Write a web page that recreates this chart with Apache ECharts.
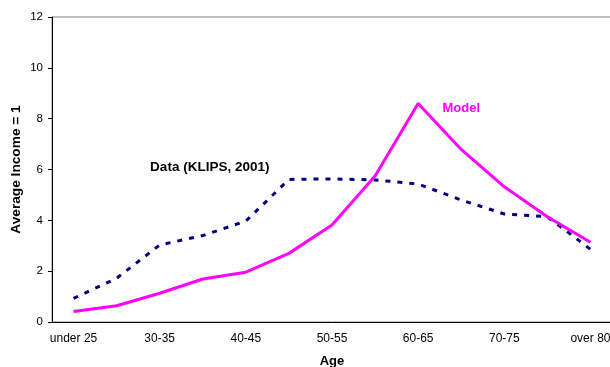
<!DOCTYPE html>
<html>
<head>
<meta charset="utf-8">
<script src="https://cdn.jsdelivr.net/npm/echarts@6/dist/echarts.min.js"></script>
<style>
  html, body { margin: 0; padding: 0; background: #fff; }
  #chart { width: 610px; height: 367px; }
</style>
</head>
<body>
<div id="chart"></div>
<script>
// Age groups (every other one is labelled on the axis)
const ageGroups = ['under 25', '25-30', '30-35', '35-40', '40-45', '45-50', '50-55',
                   '55-60', '60-65', '65-70', '70-75', '75-80', 'over 80'];

// Income by age relative to average income (= 1)
const modelValues = [0.41, 0.64, 1.13, 1.69, 1.96, 2.70, 3.82, 5.74, 8.60, 6.79, 5.32, 4.14, 3.14];
const klipsValues = [0.93, 1.72, 3.03, 3.40, 3.97, 5.61, 5.63, 5.59, 5.43, 4.80, 4.25, 4.14, 2.86];

// Y axis range
const yTicks = { min: 0, max: 12, step: 2 };

const FONT = '"Liberation Sans", Arial, sans-serif';

const chart = echarts.init(document.getElementById('chart'), null, { renderer: 'canvas' });

chart.setOption({
  animation: false,
  backgroundColor: '#ffffff',
  grid: {
    left: 52, top: 17, width: 560, height: 305,
    outerBoundsMode: 'none',
    containLabel: false,
    show: true, borderColor: '#808080', borderWidth: 1, backgroundColor: 'transparent'
  },
  xAxis: {
    type: 'category',
    data: ageGroups,
    boundaryGap: true,
    name: 'Age',
    nameLocation: 'middle',
    nameGap: 33,
    nameMoveOverlap: false,
    nameTextStyle: { fontFamily: FONT, fontWeight: 'bold', fontSize: 13, color: '#000' },
    axisLine: { lineStyle: { color: '#000', width: 1 } },
    axisTick: { interval: 0, length: 4, lineStyle: { color: '#000' } },
    axisLabel: { interval: 1, margin: 11, fontFamily: FONT, fontSize: 12, color: '#000' },
    splitLine: { show: false }
  },
  yAxis: {
    type: 'value',
    min: yTicks.min, max: yTicks.max, interval: yTicks.step,
    name: 'Average Income = 1',
    nameLocation: 'middle',
    nameGap: 29,
    nameMoveOverlap: false,
    nameRotate: 90,
    nameTextStyle: { fontFamily: FONT, fontWeight: 'bold', fontSize: 13.7, color: '#000' },
    axisLine: { show: true, lineStyle: { color: '#000', width: 1 } },
    axisTick: { show: true, length: 4, lineStyle: { color: '#000' } },
    axisLabel: { margin: 9, fontFamily: FONT, fontSize: 11.5, color: '#000' },
    splitLine: { show: false }
  },
  series: [
    {
      name: 'Data (KLIPS, 2001)',
      type: 'line',
      data: klipsValues,
      symbol: 'none',
      z: 2,
      lineStyle: { color: '#000080', width: 3, type: [5, 7] },
      markPoint: {
        symbol: 'circle', symbolSize: 0,
        itemStyle: { color: 'transparent' },
        label: {
          show: true, position: 'inside', offset: [7, 0],
          formatter: 'Data (KLIPS, 2001)',
          fontFamily: FONT, fontWeight: 'bold', fontSize: 13.5, color: '#000'
        },
        data: [{ coord: ['35-40', 6.1] }]
      }
    },
    {
      name: 'Model',
      type: 'line',
      data: modelValues,
      symbol: 'none',
      z: 3,
      lineStyle: { color: '#ff00ff', width: 3 },
      markPoint: {
        symbol: 'circle', symbolSize: 0,
        itemStyle: { color: 'transparent' },
        label: {
          show: true, position: 'inside',
          formatter: 'Model',
          fontFamily: FONT, fontWeight: 'bold', fontSize: 13, color: '#ff00ff'
        },
        data: [{ coord: ['65-70', 8.42] }]
      }
    }
  ]
});
</script>
</body>
</html>
